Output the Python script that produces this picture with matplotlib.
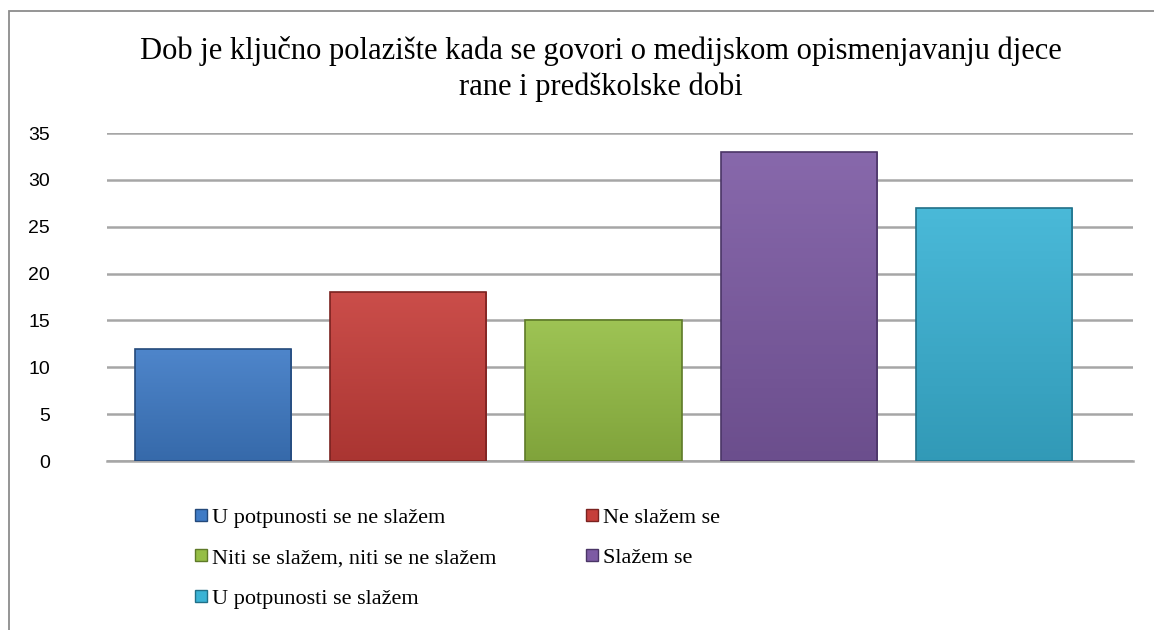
import matplotlib
matplotlib.use('Agg')
import numpy as np
import matplotlib.pyplot as plt
from matplotlib.patches import Rectangle
from matplotlib.lines import Line2D
from matplotlib.colors import to_rgb, LinearSegmentedColormap

# DATA
title = 'Dob je ključno polazište kada se govori o medijskom opismenjavanju djece\nrane i predškolske dobi'
categories = ['U potpunosti se ne slažem', 'Ne slažem se',
              'Niti se slažem, niti se ne slažem', 'Slažem se', 'U potpunosti se slažem']
values = [12, 18, 15, 33, 27]
yticks = [0, 5, 10, 15, 20, 25, 30, 35]

colors = ['#3F7BC6', '#C63E3A', '#95BE45', '#7D5BA4', '#3AB3D5']
edges = ['#24497A', '#7A2220', '#5E7A28', '#4A3566', '#217088']

fig = plt.figure(figsize=(11.54, 6.3), dpi=100)
fig.patch.set_facecolor('white')

# outer chart frame
fig.patches.append(Rectangle((9/1154, -0.05), 1.2, 1 - 11/630 + 0.05,
                             transform=fig.transFigure, fill=False,
                             edgecolor='#8C8C8C', linewidth=1.3))

ax = fig.add_axes([107/1154, 1 - 461/630, (1133-107)/1154, (461-133)/630])
x = np.arange(len(values))
bars = ax.bar(x, values, width=0.80, color=colors, edgecolor=edges,
              linewidth=1.2, zorder=3)

# soft vertical gradient inside each bar
grad = np.linspace(0, 1, 64).reshape(-1, 1)
for b, c in zip(bars, colors):
    rgb = np.array(to_rgb(c))
    top = rgb + (1 - rgb) * 0.08
    bot = rgb * 0.86
    cmap = LinearSegmentedColormap.from_list('g', [bot, top])
    bx, by = b.get_x(), b.get_y()
    im = ax.imshow(grad, cmap=cmap, aspect='auto', origin='lower',
                   extent=[bx, bx + b.get_width(), by, by + b.get_height()],
                   zorder=3.5)
    im.set_clip_path(b)
    b.set_facecolor('none')
    b.set_zorder(4)

ax.set_xlim(-0.543, 4.711)
ax.set_ylim(0, 35)
ax.set_yticks(yticks)
ax.set_xticks([])
ax.yaxis.grid(True, color='#A6A6A6', linewidth=1.8, zorder=0)
for s in ['left', 'right', 'top']:
    ax.spines[s].set_visible(False)
ax.spines['bottom'].set_color('#A6A6A6')
ax.spines['bottom'].set_linewidth(1.8)
ax.tick_params(axis='y', length=0, pad=41, labelsize=14)
for lab in ax.get_yticklabels():
    lab.set_fontfamily('Liberation Sans')

fig.text(601/1154, 1 - 69/630, title, ha='center', va='center',
         fontsize=22, family='Liberation Serif', linespacing=1.33)

handles = [Line2D([], [], marker='s', linestyle='none', markersize=8,
                  markerfacecolor=colors[i], markeredgecolor=edges[i])
           for i in range(len(values))]
order = [0, 2, 4, 1, 3]
leg = fig.legend([handles[i] for i in order], [categories[i] for i in order],
                 ncol=2, loc='upper left', bbox_to_anchor=(172/1154, 1 - 487/630),
                 frameon=False, prop={'family': 'Liberation Serif', 'size': 16},
                 handletextpad=0.1, handlelength=0.8, columnspacing=3.9,
                 labelspacing=0.9)

plt.savefig('out.png', dpi=100)
